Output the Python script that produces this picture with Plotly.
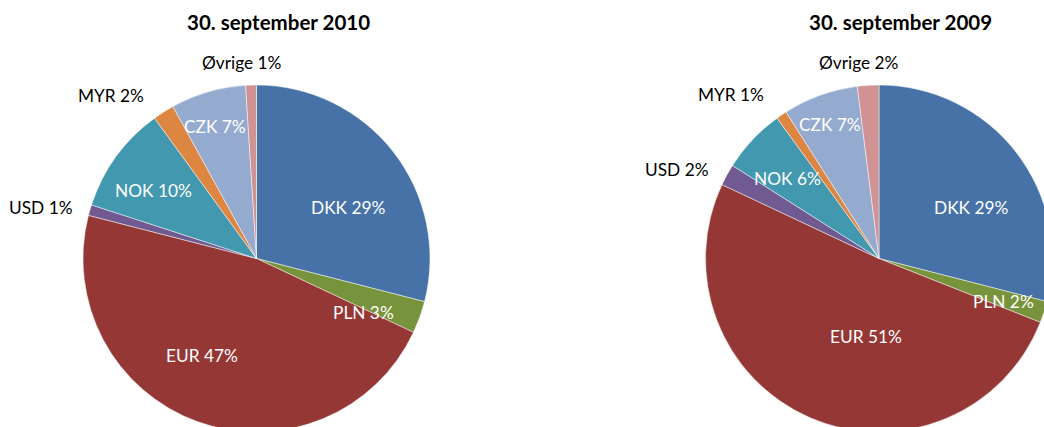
import math
import plotly.graph_objects as go

# ---- data ----
currencies = ["DKK", "PLN", "EUR", "USD", "NOK", "MYR", "CZK", "Øvrige"]
shares_2010 = [29, 3, 47, 1, 10, 2, 7, 1]
shares_2009 = [29, 2, 51, 2, 6, 1, 7, 2]
titles = ["30. september 2010", "30. september 2009"]

# ---- styles ----
colors = ["#4672A7", "#77933C", "#953735", "#705A91", "#4298AF", "#DD8641", "#95AACF", "#D19293"]
outside_labels = {"USD", "MYR", "Øvrige"}
# label placement: radius (fraction of pie radius) and angular nudge (deg) from slice mid-angle
label_radius = [
    [0.61, 0.692, 0.642, 1.276, 0.713, 1.262, 0.80, 1.13],
    [0.608, 0.761, 0.458, 1.273, 0.70, 1.273, 0.819, 1.133],
]
label_nudge = [
    [8.7, 6.7, 9.2, -3.0, -2.4, -9.3, -1.2, -2.3],
    [8.6, 0.8, -14.3, -4.9, -1.9, -8.0, -0.2, -2.1],
]
FONT = "Lato, 'Open Sans', sans-serif"
LABEL_SIZE = 17.3
TITLE_SIZE = 20.5

W, H = 1056, 434          # slightly larger than the window so the pies are clipped like the original
R = 173.5
centers = [(256.5, 258.5), (879.0, 258.5)]   # pixel centres (from top-left)
title_x = [278.5, 900.5]
title_y = 21.5

fig = go.Figure()
annotations = []

for k, shares in enumerate([shares_2010, shares_2009]):
    cx, cy = centers[k]
    fig.add_trace(go.Pie(
        labels=currencies,
        values=shares,
        sort=False,
        direction="clockwise",
        rotation=0,
        marker=dict(colors=colors, line=dict(color="rgba(255,255,255,0.6)", width=0.8)),
        textinfo="none",
        hoverinfo="label+percent",
        showlegend=False,
        domain=dict(x=[(cx - R) / W, (cx + R) / W],
                    y=[1 - (cy + R) / H, 1 - (cy - R) / H]),
    ))
    total = sum(shares)
    cum = 0
    for i, (name, v) in enumerate(zip(currencies, shares)):
        mid = (cum + v / 2) / total * 2 * math.pi + math.radians(label_nudge[k][i])
        cum += v
        dx, dy = math.sin(mid), math.cos(mid)   # dy positive = up
        d = label_radius[k][i] * R
        px = cx + d * dx
        py = cy - d * dy
        color = "#000000" if name in outside_labels else "#FFFFFF"
        annotations.append(dict(
            x=px / W, y=1 - py / H, xref="paper", yref="paper",
            text=f"{name} {v}%", showarrow=False, xanchor="center", yanchor="middle",
            font=dict(family=FONT, size=LABEL_SIZE, color=color)))
    annotations.append(dict(
        x=title_x[k] / W, y=1 - title_y / H, xref="paper", yref="paper",
        text=f"<b>{titles[k]}</b>", showarrow=False, xanchor="center", yanchor="middle",
        font=dict(family=FONT, size=TITLE_SIZE, color="#000000")))

fig.update_layout(
    width=W, height=H,
    margin=dict(l=0, r=0, t=0, b=0),
    paper_bgcolor="white",
    plot_bgcolor="white",
    annotations=annotations,
)

fig.write_html(
    "out.html",
    post_script="document.documentElement.style.overflow='hidden';document.body.style.overflow='hidden';document.body.style.margin='0';",
)
